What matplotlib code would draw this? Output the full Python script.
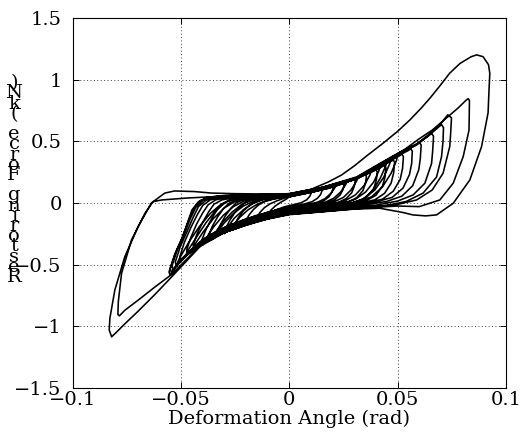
"""Hysteresis loops: restoring force vs. deformation angle."""

import numpy as np
import matplotlib
matplotlib.use("Agg")
import matplotlib.pyplot as plt

# ---------------------------------------------------------------------------
# Data, one cycle per list of (angle, force) vertices
# ---------------------------------------------------------------------------
loop_r = [(0.000, 0.048), (0.0045, 0.068), (0.0080, 0.088), (0.0100, 0.105), (0.0102, 0.085),
          (0.0095, 0.055), (0.0080, 0.025), (0.0055, 0.002), (0.0020, -0.014), (-0.0020, -0.030),
          (-0.0060, -0.055), (-0.0090, -0.090), (-0.0100, -0.125), (-0.0098, -0.095),
          (-0.0085, -0.058), (-0.0065, -0.025), (-0.0040, 0.005), (-0.0015, 0.030)]
loop_q = [(0.000, 0.050), (0.0065, 0.072), (0.0110, 0.095), (0.0138, 0.112), (0.0150, 0.125),
          (0.0152, 0.105), (0.0145, 0.070), (0.0130, 0.038), (0.0105, 0.010), (0.0070, -0.008),
          (0.0030, -0.022), (-0.0020, -0.038), (-0.0070, -0.062), (-0.0115, -0.092),
          (-0.0142, -0.122), (-0.0150, -0.145), (-0.0150, -0.115), (-0.0135, -0.075),
          (-0.0115, -0.038), (-0.0090, -0.008), (-0.0060, 0.015), (-0.0030, 0.035)]
loop_z = [(0.000, 0.054), (0.0085, 0.082), (0.0160, 0.118), (0.0205, 0.148), (0.0220, 0.160),
          (0.0212, 0.128), (0.0192, 0.078), (0.0165, 0.035), (0.0130, 0.006), (0.0085, -0.014),
          (0.0025, -0.030), (-0.0040, -0.054), (-0.0120, -0.092), (-0.0200, -0.140),
          (-0.0250, -0.188), (-0.0270, -0.220), (-0.0258, -0.180), (-0.0228, -0.115),
          (-0.0190, -0.055), (-0.0150, -0.012), (-0.0105, 0.020), (-0.0050, 0.042)]
loop_o = [(0.000, 0.052), (0.0080, 0.078), (0.0145, 0.105), (0.0182, 0.130), (0.0200, 0.148),
          (0.0203, 0.128), (0.0197, 0.088), (0.0183, 0.050), (0.0160, 0.018), (0.0125, -0.003),
          (0.0075, -0.018), (0.0020, -0.032), (-0.0040, -0.048), (-0.0100, -0.075),
          (-0.0160, -0.112), (-0.0190, -0.145), (-0.0200, -0.170), (-0.0200, -0.140),
          (-0.0185, -0.095), (-0.0165, -0.052), (-0.0142, -0.016), (-0.0115, 0.010),
          (-0.0080, 0.028), (-0.0040, 0.042)]
loop_n = [(0.000, 0.054), (0.0100, 0.085), (0.0180, 0.118), (0.0225, 0.150), (0.0250, 0.175),
          (0.0254, 0.155), (0.0248, 0.110), (0.0235, 0.065), (0.0210, 0.026), (0.0175, 0.000),
          (0.0120, -0.016), (0.0060, -0.030), (0.0000, -0.044), (-0.0080, -0.068),
          (-0.0160, -0.105), (-0.0215, -0.148), (-0.0243, -0.180), (-0.0250, -0.200),
          (-0.0251, -0.170), (-0.0235, -0.118), (-0.0214, -0.068), (-0.0190, -0.026),
          (-0.0165, 0.004), (-0.0130, 0.026), (-0.0080, 0.040), (-0.0030, 0.048)]
loop_x = [(0.000, 0.056), (0.0100, 0.088), (0.0190, 0.130), (0.0245, 0.166), (0.0265, 0.180),
          (0.0270, 0.185), (0.0260, 0.148), (0.0237, 0.088), (0.0205, 0.038), (0.0165, 0.005),
          (0.0110, -0.016), (0.0040, -0.034), (-0.0040, -0.060), (-0.0120, -0.095),
          (-0.0210, -0.148), (-0.0290, -0.210), (-0.0330, -0.258), (-0.0350, -0.290),
          (-0.0338, -0.248), (-0.0302, -0.165), (-0.0258, -0.085), (-0.0212, -0.025),
          (-0.0165, 0.015), (-0.0110, 0.038), (-0.0050, 0.050)]
loop_m = [(0.000, 0.056), (0.0110, 0.090), (0.0200, 0.128), (0.0260, 0.168), (0.0290, 0.192),
          (0.0300, 0.205), (0.0305, 0.185), (0.0300, 0.135), (0.0288, 0.082), (0.0262, 0.034),
          (0.0225, 0.004), (0.0170, -0.014), (0.0100, -0.028), (0.0040, -0.040),
          (-0.0030, -0.056), (-0.0120, -0.090), (-0.0200, -0.128), (-0.0255, -0.170),
          (-0.0282, -0.205), (-0.0290, -0.230), (-0.0292, -0.200), (-0.0275, -0.140),
          (-0.0253, -0.082), (-0.0230, -0.034), (-0.0205, 0.002), (-0.0170, 0.026),
          (-0.0120, 0.040), (-0.0050, 0.048)]
loop_l = [(0.000, 0.058), (0.0120, 0.096), (0.0220, 0.140), (0.0290, 0.185), (0.0335, 0.220),
          (0.0350, 0.235), (0.0356, 0.215), (0.0352, 0.160), (0.0340, 0.100), (0.0312, 0.044),
          (0.0275, 0.008), (0.0220, -0.012), (0.0150, -0.026), (0.0070, -0.041),
          (0.0000, -0.056), (-0.0100, -0.088), (-0.0200, -0.132), (-0.0270, -0.175),
          (-0.0312, -0.215), (-0.0327, -0.245), (-0.0330, -0.265), (-0.0333, -0.235),
          (-0.0316, -0.168), (-0.0294, -0.100), (-0.0270, -0.043), (-0.0246, 0.000),
          (-0.0215, 0.026), (-0.0160, 0.040), (-0.0080, 0.048)]
loop_v = [(0.000, 0.058), (0.0110, 0.094), (0.0220, 0.145), (0.0290, 0.192), (0.0315, 0.208),
          (0.0320, 0.215), (0.0310, 0.175), (0.0285, 0.105), (0.0250, 0.045), (0.0205, 0.008),
          (0.0140, -0.016), (0.0060, -0.035), (-0.0020, -0.058), (-0.0100, -0.090),
          (-0.0200, -0.140), (-0.0300, -0.205), (-0.0370, -0.280), (-0.0395, -0.320),
          (-0.0400, -0.340), (-0.0388, -0.295), (-0.0350, -0.195), (-0.0305, -0.100),
          (-0.0258, -0.030), (-0.0210, 0.015), (-0.0150, 0.040), (-0.0070, 0.052)]
loop_k = [(0.000, 0.060), (0.0130, 0.102), (0.0240, 0.152), (0.0320, 0.205), (0.0380, 0.250),
          (0.0400, 0.270), (0.0406, 0.250), (0.0402, 0.185), (0.0390, 0.118), (0.0360, 0.052),
          (0.0320, 0.012), (0.0260, -0.010), (0.0180, -0.026), (0.0090, -0.043),
          (0.0000, -0.060), (-0.0100, -0.092), (-0.0200, -0.138), (-0.0290, -0.190),
          (-0.0345, -0.240), (-0.0365, -0.275), (-0.0370, -0.300), (-0.0374, -0.265),
          (-0.0356, -0.190), (-0.0332, -0.115), (-0.0306, -0.050), (-0.0280, -0.004),
          (-0.0245, 0.026), (-0.0190, 0.040), (-0.0090, 0.050)]
loop_w = [(0.000, 0.060), (0.0140, 0.108), (0.0280, 0.180), (0.0370, 0.250), (0.0410, 0.288),
          (0.0420, 0.300), (0.0414, 0.262), (0.0390, 0.170), (0.0352, 0.088), (0.0305, 0.030),
          (0.0245, -0.004), (0.0160, -0.026), (0.0060, -0.045), (-0.0040, -0.070),
          (-0.0130, -0.108), (-0.0210, -0.160), (-0.0270, -0.210), (-0.0295, -0.238),
          (-0.0300, -0.250), (-0.0288, -0.205), (-0.0255, -0.125), (-0.0212, -0.055),
          (-0.0168, -0.005), (-0.0120, 0.028), (-0.0060, 0.046)]
loop_j = [(0.000, 0.062), (0.0140, 0.108), (0.0260, 0.165), (0.0350, 0.230), (0.0415, 0.280),
          (0.0440, 0.305), (0.0446, 0.285), (0.0442, 0.210), (0.0430, 0.135), (0.0400, 0.062),
          (0.0355, 0.018), (0.0290, -0.008), (0.0200, -0.026), (0.0100, -0.045),
          (0.0000, -0.064), (-0.0100, -0.096), (-0.0200, -0.144), (-0.0300, -0.200),
          (-0.0370, -0.260), (-0.0395, -0.305), (-0.0400, -0.335), (-0.0404, -0.300),
          (-0.0385, -0.215), (-0.0360, -0.130), (-0.0335, -0.060), (-0.0310, -0.008),
          (-0.0275, 0.025), (-0.0220, 0.042), (-0.0100, 0.052)]
loop_t = [(0.000, 0.062), (0.0130, 0.105), (0.0260, 0.170), (0.0340, 0.228), (0.0375, 0.255),
          (0.0380, 0.265), (0.0372, 0.225), (0.0345, 0.140), (0.0305, 0.065), (0.0255, 0.015),
          (0.0190, -0.012), (0.0100, -0.034), (0.0000, -0.058), (-0.0100, -0.092),
          (-0.0200, -0.142), (-0.0300, -0.205), (-0.0390, -0.285), (-0.0435, -0.350),
          (-0.0450, -0.385), (-0.0438, -0.340), (-0.0398, -0.235), (-0.0350, -0.125),
          (-0.0300, -0.040), (-0.0250, 0.012), (-0.0190, 0.040), (-0.0090, 0.054)]
loop_i = [(0.000, 0.064), (0.0150, 0.114), (0.0280, 0.178), (0.0380, 0.262), (0.0450, 0.320),
          (0.0475, 0.342), (0.0480, 0.350), (0.0486, 0.330), (0.0482, 0.245), (0.0470, 0.160),
          (0.0440, 0.078), (0.0395, 0.025), (0.0320, -0.005), (0.0220, -0.025),
          (0.0100, -0.048), (0.0000, -0.068), (-0.0100, -0.100), (-0.0200, -0.150),
          (-0.0300, -0.208), (-0.0380, -0.275), (-0.0425, -0.335), (-0.0440, -0.375),
          (-0.0444, -0.340), (-0.0425, -0.245), (-0.0398, -0.150), (-0.0372, -0.070),
          (-0.0348, -0.010), (-0.0310, 0.025), (-0.0250, 0.044), (-0.0120, 0.054)]
loop_u = [(0.000, 0.065), (0.0156, 0.118), (0.0310, 0.196), (0.0420, 0.300), (0.0480, 0.360),
          (0.0500, 0.385), (0.0495, 0.345), (0.0470, 0.240), (0.0430, 0.130), (0.0380, 0.050),
          (0.0320, 0.008), (0.0220, -0.020), (0.0100, -0.044), (0.0000, -0.064),
          (-0.0100, -0.096), (-0.0200, -0.146), (-0.0290, -0.205), (-0.0340, -0.260),
          (-0.0360, -0.300), (-0.0348, -0.255), (-0.0310, -0.160), (-0.0265, -0.075),
          (-0.0220, -0.012), (-0.0170, 0.030), (-0.0090, 0.050)]
loop_h = [(0.000, 0.066), (0.0156, 0.118), (0.0310, 0.192), (0.0400, 0.280), (0.0480, 0.355),
          (0.0510, 0.383), (0.0520, 0.395), (0.0527, 0.375), (0.0523, 0.280), (0.0512, 0.190),
          (0.0480, 0.095), (0.0430, 0.030), (0.0350, 0.000), (0.0250, -0.022),
          (0.0120, -0.048), (0.0000, -0.072), (-0.0100, -0.106), (-0.0200, -0.156),
          (-0.0300, -0.214), (-0.0380, -0.285), (-0.0440, -0.360), (-0.0465, -0.405),
          (-0.0470, -0.420), (-0.0474, -0.380), (-0.0455, -0.280), (-0.0428, -0.170),
          (-0.0400, -0.080), (-0.0375, -0.015), (-0.0340, 0.025), (-0.0280, 0.046),
          (-0.0150, 0.056)]
loop_s = [(0.000, 0.066), (0.0150, 0.116), (0.0300, 0.195), (0.0400, 0.280), (0.0440, 0.320),
          (0.0450, 0.335), (0.0445, 0.300), (0.0420, 0.200), (0.0385, 0.100), (0.0340, 0.030),
          (0.0280, -0.008), (0.0180, -0.030), (0.0080, -0.050), (0.0000, -0.070),
          (-0.0100, -0.104), (-0.0200, -0.154), (-0.0300, -0.214), (-0.0400, -0.300),
          (-0.0460, -0.390), (-0.0480, -0.430), (-0.0470, -0.390), (-0.0430, -0.280),
          (-0.0385, -0.160), (-0.0340, -0.060), (-0.0290, 0.010), (-0.0230, 0.042),
          (-0.0120, 0.056)]
loop_y = [(0.000, 0.068), (0.0156, 0.120), (0.0310, 0.198), (0.0420, 0.305), (0.0460, 0.343),
          (0.0470, 0.355), (0.0462, 0.310), (0.0435, 0.205), (0.0395, 0.105), (0.0345, 0.035),
          (0.0280, -0.004), (0.0180, -0.028), (0.0080, -0.050), (0.0000, -0.072),
          (-0.0100, -0.108), (-0.0200, -0.160), (-0.0300, -0.222), (-0.0400, -0.312),
          (-0.0470, -0.410), (-0.0510, -0.475), (-0.0520, -0.500), (-0.0508, -0.450),
          (-0.0465, -0.320), (-0.0415, -0.190), (-0.0365, -0.085), (-0.0315, -0.010),
          (-0.0260, 0.032), (-0.0180, 0.050), (-0.0080, 0.060)]
loop_g = [(0.000, 0.068), (0.0156, 0.120), (0.0310, 0.195), (0.0433, 0.318), (0.0510, 0.390),
          (0.0550, 0.425), (0.0560, 0.440), (0.0568, 0.420), (0.0565, 0.320), (0.0555, 0.230),
          (0.0525, 0.120), (0.0475, 0.045), (0.0400, 0.008), (0.0300, -0.018),
          (0.0200, -0.038), (0.0100, -0.058), (0.0000, -0.078), (-0.0100, -0.112),
          (-0.0200, -0.162), (-0.0300, -0.222), (-0.0400, -0.310), (-0.0460, -0.390),
          (-0.0495, -0.450), (-0.0500, -0.470), (-0.0505, -0.430), (-0.0485, -0.320),
          (-0.0455, -0.200), (-0.0425, -0.095), (-0.0400, -0.020), (-0.0365, 0.025),
          (-0.0300, 0.048), (-0.0150, 0.058)]
loop_f = [(0.000, 0.070), (0.0156, 0.122), (0.0310, 0.198), (0.0433, 0.322), (0.0520, 0.405),
          (0.0580, 0.465), (0.0600, 0.490), (0.0609, 0.470), (0.0605, 0.360), (0.0598, 0.270),
          (0.0570, 0.140), (0.0520, 0.055), (0.0450, 0.012), (0.0350, -0.015),
          (0.0250, -0.035), (0.0120, -0.058), (0.0000, -0.080), (-0.0100, -0.115),
          (-0.0200, -0.166), (-0.0300, -0.226), (-0.0400, -0.315), (-0.0470, -0.410),
          (-0.0510, -0.485), (-0.0520, -0.515), (-0.0527, -0.480), (-0.0505, -0.360),
          (-0.0475, -0.240), (-0.0445, -0.120), (-0.0420, -0.030), (-0.0385, 0.022),
          (-0.0330, 0.048), (-0.0200, 0.058)]
loop_e = [(0.000, 0.072), (0.0156, 0.124), (0.0310, 0.200), (0.0433, 0.325), (0.0520, 0.412),
          (0.0588, 0.470), (0.0640, 0.540), (0.0657, 0.565), (0.0666, 0.540), (0.0662, 0.420),
          (0.0657, 0.320), (0.0626, 0.160), (0.0572, 0.065), (0.0500, 0.015),
          (0.0400, -0.018), (0.0300, -0.034), (0.0200, -0.050), (0.0100, -0.068),
          (0.0000, -0.085), (-0.0100, -0.120), (-0.0200, -0.172), (-0.0300, -0.232),
          (-0.0400, -0.320), (-0.0480, -0.425), (-0.0525, -0.510), (-0.0535, -0.545),
          (-0.0542, -0.510), (-0.0518, -0.380), (-0.0488, -0.260), (-0.0458, -0.130),
          (-0.0432, -0.035), (-0.0400, 0.020), (-0.0350, 0.048), (-0.0200, 0.060)]
loop_d = [(0.000, 0.073), (0.0156, 0.126), (0.0310, 0.203), (0.0433, 0.328), (0.0520, 0.418),
          (0.0588, 0.475), (0.0650, 0.555), (0.0690, 0.615), (0.0703, 0.635), (0.0712, 0.610),
          (0.0710, 0.500), (0.0703, 0.375), (0.0680, 0.210), (0.0618, 0.080), (0.0540, 0.012),
          (0.0450, -0.020), (0.0350, -0.036), (0.0250, -0.052), (0.0120, -0.072),
          (0.0000, -0.088), (-0.0100, -0.124), (-0.0200, -0.176), (-0.0300, -0.236),
          (-0.0400, -0.325), (-0.0480, -0.430), (-0.0530, -0.525), (-0.0545, -0.565),
          (-0.0550, -0.530), (-0.0525, -0.400), (-0.0495, -0.280), (-0.0465, -0.140),
          (-0.0440, -0.040), (-0.0410, 0.020), (-0.0370, 0.045), (-0.0300, 0.058),
          (-0.0150, 0.064)]
loop_c = [(0.000, 0.075), (0.0156, 0.128), (0.0310, 0.205), (0.0433, 0.330), (0.0520, 0.420),
          (0.0588, 0.478), (0.0650, 0.562), (0.0700, 0.645), (0.0732, 0.714), (0.0749, 0.690),
          (0.0745, 0.560), (0.0741, 0.457), (0.0710, 0.240), (0.0660, 0.105), (0.0588, 0.024),
          (0.0500, -0.012), (0.0400, -0.030), (0.0300, -0.045), (0.0200, -0.062),
          (0.0100, -0.078), (0.0000, -0.092), (-0.0100, -0.128), (-0.0200, -0.180),
          (-0.0300, -0.240), (-0.0400, -0.330), (-0.0470, -0.420), (-0.0520, -0.510),
          (-0.0550, -0.585), (-0.0556, -0.560), (-0.0530, -0.420), (-0.0498, -0.300),
          (-0.0470, -0.160), (-0.0450, -0.057), (-0.0420, 0.010), (-0.0380, 0.045),
          (-0.0300, 0.060), (-0.0150, 0.066)]
loop_b = [(0.000, 0.075), (0.0150, 0.125), (0.0310, 0.210), (0.0433, 0.335), (0.0530, 0.430),
          (0.0600, 0.520), (0.0660, 0.590), (0.0720, 0.680), (0.0780, 0.770), (0.0815, 0.830),
          (0.0826, 0.845), (0.0832, 0.830), (0.0830, 0.590), (0.0803, 0.375), (0.0757, 0.160),
          (0.0695, 0.024), (0.0600, -0.030), (0.0500, -0.025), (0.0400, -0.035),
          (0.0300, -0.048), (0.0150, -0.070), (0.0000, -0.090), (-0.0150, -0.150),
          (-0.0300, -0.240), (-0.0420, -0.360), (-0.0544, -0.580), (-0.0620, -0.680),
          (-0.0700, -0.790), (-0.0760, -0.870), (-0.0785, -0.915), (-0.0792, -0.905),
          (-0.0790, -0.800), (-0.0775, -0.570), (-0.0729, -0.300), (-0.0667, -0.084),
          (-0.0630, 0.010), (-0.0590, 0.024), (-0.0470, 0.040), (-0.0300, 0.055),
          (-0.0150, 0.062)]
loop_a = [(0.000, 0.070), (0.0100, 0.110), (0.0180, 0.170), (0.0240, 0.225), (0.0300, 0.300),
          (0.0360, 0.385), (0.0433, 0.484), (0.0500, 0.580), (0.0557, 0.673), (0.0610, 0.770),
          (0.0650, 0.850), (0.0696, 0.950), (0.0740, 1.050), (0.0788, 1.130), (0.0840, 1.185),
          (0.0865, 1.200), (0.0895, 1.185), (0.0920, 1.120), (0.0926, 1.050), (0.0922, 0.900),
          (0.0918, 0.730), (0.0888, 0.457), (0.0834, 0.187), (0.0757, -0.003),
          (0.0680, -0.097), (0.0630, -0.105), (0.0570, -0.097), (0.0526, -0.078),
          (0.0418, -0.043), (0.0300, -0.050), (0.0200, -0.065), (0.0100, -0.080),
          (0.0000, -0.095), (-0.0100, -0.130), (-0.0200, -0.180), (-0.0300, -0.240),
          (-0.0400, -0.330), (-0.0544, -0.600), (-0.0620, -0.740), (-0.0700, -0.880),
          (-0.0760, -0.980), (-0.0800, -1.050), (-0.0821, -1.085), (-0.0832, -1.030),
          (-0.0829, -0.935), (-0.0806, -0.705), (-0.0760, -0.435), (-0.0698, -0.190),
          (-0.0637, 0.000), (-0.0575, 0.080), (-0.0530, 0.097), (-0.0437, 0.092),
          (-0.0360, 0.080), (-0.0250, 0.075), (-0.0120, 0.072), (0.0000, 0.070)]

cycles = [loop_r, loop_q, loop_z, loop_o, loop_n, loop_x, loop_m, loop_l, loop_v,
          loop_k, loop_w, loop_j, loop_t, loop_i, loop_u, loop_h, loop_s, loop_y,
          loop_g, loop_f, loop_e, loop_d, loop_c, loop_b, loop_a]

x_ticks = [-0.1, -0.05, 0, 0.05, 0.1]
x_tick_labels = ["\u22120.1", "\u22120.05", "0", "0.05", "0.1"]
y_ticks = [-1.5, -1, -0.5, 0, 0.5, 1, 1.5]
y_tick_labels = ["\u22121.5", "\u22121", "\u22120.5", "0", "0.5", "1", "1.5"]
x_label = "Deformation Angle (rad)"
y_label = "Restoring Force (kN)"

FONT = ["DejaVu Serif"]
FS = 14

fig = plt.figure(figsize=(5.28, 4.46), dpi=100)
ax = fig.add_axes([0.138, 0.130, 0.820, 0.830])

path = np.array([pt for loop in cycles for pt in loop])
ax.plot(path[:, 0], path[:, 1], color="black", linewidth=1.15, solid_joinstyle="round")

ax.set_xlim(-0.1, 0.1)
ax.set_ylim(-1.5, 1.5)
ax.set_xticks(x_ticks)
ax.set_xticklabels(x_tick_labels, family=FONT, fontsize=FS)
ax.set_yticks(y_ticks)
ax.set_yticklabels(y_tick_labels, family=FONT, fontsize=FS)
ax.tick_params(direction="in", length=4, width=0.7, top=True, right=True, pad=2)
ax.tick_params(axis="y", pad=8)
ax.grid(True, color="0.25", linestyle=(0, (1, 2.5)), linewidth=0.7)
for sp in ax.spines.values():
    sp.set_linewidth(0.8)

ax.set_xlabel(x_label, family=FONT, fontsize=FS, labelpad=1)

# y label: upright characters stacked bottom-to-top, as in the original
for i, ch in enumerate(y_label):
    fig.text(14 / 528, (446 - 277 + i * 10.2) / 446, ch, family=FONT, fontsize=FS,
             ha="center", va="center")

fig.savefig("out.png", dpi=100)
